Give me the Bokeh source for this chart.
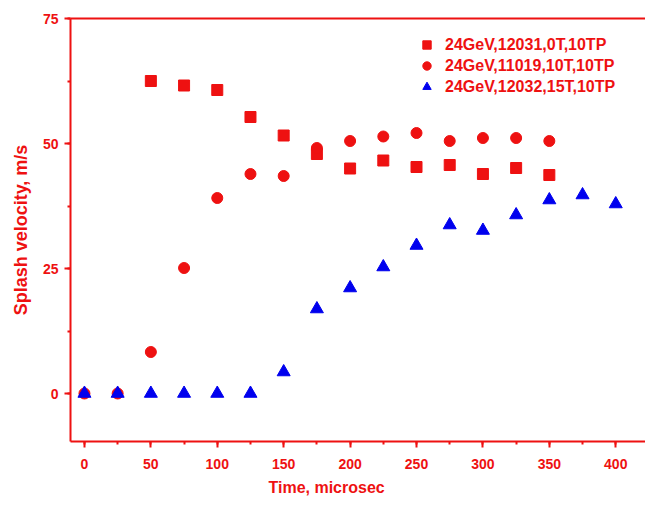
from bokeh.plotting import figure
from bokeh.models import (Range1d, SingleIntervalTicker, FixedTicker, LinearAxis, Legend,
                          LegendItem, Title)
from bokeh.embed import file_html
from bokeh.resources import INLINE

# Data
time_sq = [50, 75, 100, 125, 150, 175, 200, 225, 250, 275, 300, 325, 350]
vel_sq = [62.5, 61.6, 60.7, 55.3, 51.6, 47.9, 45.0, 46.6, 45.3, 45.7, 43.9, 45.1, 43.7]

time_ci = [0, 25, 50, 75, 100, 125, 150, 175, 200, 225, 250, 275, 300, 325, 350]
vel_ci = [0, 0, 8.3, 25.1, 39.1, 43.9, 43.5, 49.1, 50.5, 51.4, 52.1, 50.5, 51.1, 51.1, 50.5]

time_tr = [0, 25, 50, 75, 100, 125, 150, 175, 200, 225, 250, 275, 300, 325, 350, 375, 400]
vel_tr = [0, 0, 0, 0, 0, 0, 4.3, 16.9, 21.1, 25.3, 29.6, 33.7, 32.6, 35.7, 38.7, 39.7, 37.9]

labels = ["24GeV,12031,0T,10TP", "24GeV,11019,10T,10TP", "24GeV,12032,15T,10TP"]
x_title = "Time, microsec"
y_title = "Splash velocity, m/s"

RED = "#ee1111"
BLUE = "#0000ee"
FONT = "Liberation Sans"

p = figure(width=645, height=505, output_backend="svg", toolbar_location=None,
           x_range=Range1d(-10.5, 422.4), y_range=Range1d(-9.6, 75),
           min_border_left=70, min_border_right=0, min_border_top=18, min_border_bottom=64)
p.outline_line_color = None
p.xgrid.visible = False
p.ygrid.visible = False
p.background_fill_color = "white"
p.border_fill_color = "white"

r1 = p.scatter(time_sq, vel_sq, marker="square", size=11, color=RED)
r2 = p.scatter(time_ci, vel_ci, marker="circle", size=11, color=RED)
r3 = p.scatter(time_tr, vel_tr, marker="triangle", size=13, color=BLUE)

for ax, interval in ((p.xaxis[0], 50), (p.yaxis[0], 25)):
    ax.ticker = SingleIntervalTicker(interval=interval, num_minor_ticks=2)
    ax.axis_line_color = RED
    ax.axis_line_width = 2
    ax.major_tick_line_color = RED
    ax.major_tick_line_width = 2
    ax.minor_tick_line_color = RED
    ax.minor_tick_line_width = 2
    ax.major_tick_in = 0
    ax.major_tick_out = 6
    ax.minor_tick_in = 0
    ax.minor_tick_out = 3
    ax.major_label_text_color = RED
    ax.major_label_text_font = FONT
    ax.major_label_text_font_style = "bold"
    ax.major_label_text_font_size = "14px"
    ax.axis_label_text_color = RED
    ax.axis_label_text_font = FONT
    ax.axis_label_text_font_style = "bold"

p.yaxis[0].axis_label = y_title
p.yaxis[0].axis_label_text_font_size = "18px"
p.xaxis[0].major_label_standoff = 11
p.yaxis[0].major_label_standoff = 6
p.yaxis[0].axis_label_standoff = 9

# empty spacer between the tick labels and the x title
spacer = LinearAxis(ticker=FixedTicker(ticks=[]), axis_line_color=None,
                    major_tick_line_color=None, minor_tick_line_color=None,
                    major_tick_in=0, major_tick_out=7)
p.add_layout(spacer, "below")

xt = Title(text=x_title, align="left", offset=198, text_color=RED,
           text_font=FONT, text_font_style="bold", text_font_size="16px")
p.add_layout(xt, "below")

top = LinearAxis(ticker=FixedTicker(ticks=[]), major_tick_line_color=None,
                 minor_tick_line_color=None, axis_line_color=RED, axis_line_width=2)
p.add_layout(top, "above")

legend = Legend(items=[LegendItem(label=labels[0], renderers=[r1]),
                       LegendItem(label=labels[1], renderers=[r2]),
                       LegendItem(label=labels[2], renderers=[r3])],
                location=(346, 344), border_line_color=None, background_fill_alpha=0,
                label_text_color=RED, label_text_font=FONT, label_text_font_style="bold",
                label_text_font_size="16px", glyph_width=21, glyph_height=21,
                spacing=0, padding=0, margin=0, label_standoff=8, label_height=21)
p.add_layout(legend, "center")

open("out.html", "w").write(file_html(p, INLINE))
